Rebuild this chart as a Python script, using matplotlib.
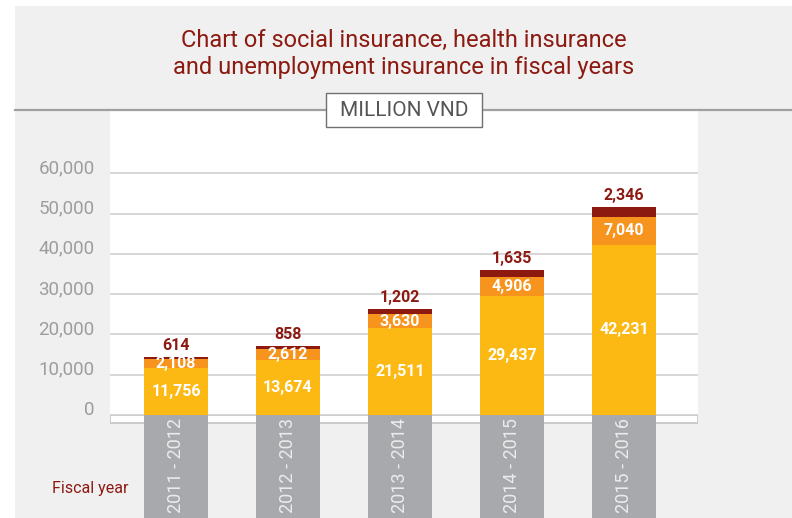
import matplotlib.pyplot as plt
from matplotlib.patches import Rectangle
from matplotlib.lines import Line2D
from matplotlib.ticker import FuncFormatter

plt.rcParams['font.family'] = ['Roboto', 'DejaVu Sans']

years = ['2011 - 2012', '2012 - 2013', '2013 - 2014', '2014 - 2015', '2015 - 2016']
social = [11756, 13674, 21511, 29437, 42231]
health = [2108, 2612, 3630, 4906, 7040]
unemployment = [614, 858, 1202, 1635, 2346]
yticks = [0, 10000, 20000, 30000, 40000, 50000, 60000]

YELLOW = '#FDB913'
ORANGE = '#F7941D'
DARKRED = '#8C1A11'
BARGRAY = '#A7A9AC'
BG = '#F0F0F0'

W, H = 792, 518
fig = plt.figure(figsize=(W / 100, H / 100), dpi=100)
fig.patch.set_facecolor('white')

# grey panel behind everything
fig.patches.append(Rectangle((15 / W, 0), 1, 1 - 6 / H, transform=fig.transFigure,
                             facecolor=BG, edgecolor='none', zorder=-10))

# title
fig.text(404 / W, 1 - 54 / H,
         'Chart of social insurance, health insurance\nand unemployment insurance in fiscal years',
         ha='center', va='center', fontsize=17, color=DARKRED, linespacing=1.25)

# rule with unit box
fig.lines.append(Line2D([15 / W, 1], [1 - 109.5 / H] * 2, transform=fig.transFigure,
                        color='#A0A0A0', lw=1.6))
fig.patches.append(Rectangle((326 / W, 1 - 127 / H), 156 / W, 34 / H, transform=fig.transFigure,
                             facecolor='white', edgecolor='#707070', lw=1, zorder=5))
fig.text(404 / W, 1 - 110 / H, 'MILLION VND', ha='center', va='center',
         fontsize=15, color='#555555', zorder=6)

# main plot area
ax = fig.add_axes([110 / W, 103 / H, 588 / W, 304 / H])
ax.set_facecolor('white')
x = list(range(len(years)))
bw = 0.571

b1 = ax.bar(x, social, bw, color=YELLOW, zorder=3)
b2 = ax.bar(x, health, bw, bottom=social, color=ORANGE, zorder=3)
bottom3 = [s + h for s, h in zip(social, health)]
b3 = ax.bar(x, unemployment, bw, bottom=bottom3, color=DARKRED, zorder=3)

ax.bar_label(b1, labels=[f'{v:,}' for v in social], label_type='center',
             color='white', fontsize=11.5, fontweight='bold')
ax.bar_label(b2, labels=[f'{v:,}' for v in health], label_type='center',
             color='white', fontsize=11.5, fontweight='bold')
ax.bar_label(b3, labels=[f'{v:,}' for v in unemployment], label_type='edge', padding=3,
             color=DARKRED, fontsize=11.5, fontweight='bold')

ax.set_xlim(-0.589, 4.661)
ax.set_ylim(0, 75460)
ax.set_yticks(yticks)
ax.yaxis.set_major_formatter(FuncFormatter(lambda v, p: f'{int(v):,}'))
ax.tick_params(axis='y', length=0, pad=11, labelsize=13.5, labelcolor='#9D9D9D')
for lbl in ax.get_yticklabels():
    lbl.set_va('baseline')
ax.set_xticks([])
ax.grid(axis='y', color='#CFCFCF', lw=1.2, zorder=0)
for s in ax.spines.values():
    s.set_visible(False)

# fiscal year strip under the bars
bx = fig.add_axes([110 / W, 0, 588 / W, 103 / H])
bx.set_facecolor('none')
bx.set_xlim(ax.get_xlim())
bx.set_ylim(0, 1)
bx.add_patch(Rectangle((0, 1 - 8 / 103), 1, 8 / 103, transform=bx.transAxes,
                       facecolor='white', edgecolor='#C4C4C4', lw=1.2, zorder=1))
bx.bar(x, [1] * len(x), bw, color=BARGRAY, zorder=2)
for xi, yr in zip(x, years):
    bx.text(xi, 0.51, yr, rotation=90, ha='center', va='center',
            color='#ECECEC', fontsize=13, zorder=3)
bx.axis('off')

fig.text(52 / W, 1 - 489 / H, 'Fiscal year', ha='left', va='center',
         fontsize=11.5, color=DARKRED)

fig.savefig('out.png', dpi=100)
